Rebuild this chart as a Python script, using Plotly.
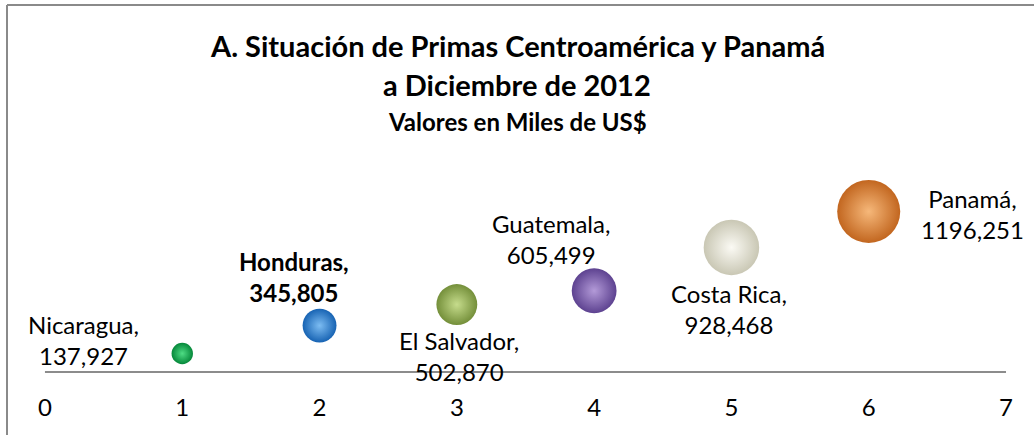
import plotly.graph_objects as go

# datos del gráfico (valores en miles de US$)
paises = ["Nicaragua", "Honduras", "El Salvador", "Guatemala", "Costa Rica", "Panamá"]
posicion = [1, 2, 3, 4, 5, 6]
primas = [137.927, 345.805, 502.870, 605.499, 928.468, 1196.251]
ticks_x = [0, 1, 2, 3, 4, 5, 6, 7]

# colores de las burbujas: borde y brillo
color_borde = ["#05883a", "#1763b3", "#748f3a", "#5d4290", "#c9c7b4", "#c2661f"]
color_brillo = ["#4edc84", "#7cbcf2", "#c6dc8c", "#b39ad8", "#fbfaf4", "#f6b87a"]

# desplazamiento de las etiquetas (px)
dx = [-99, -26, 2, -43, -2, 104]
dy = [13, 49, -51, 52, -62, -3]

FONT = "Lato"
W, H = 1034, 435
L, R, T, B = 30, 10, 175, 44
pw, ph = W - L - R, H - T - B


def fmt(v):
    return f"{v:.3f}".replace(".", ",")


def py(px):
    # pixel vertical -> coordenada paper
    return (H - B - px) / ph


def px_x(px):
    return (px - L) / pw


fig = go.Figure()

fig.add_trace(go.Scatter(
    x=posicion,
    y=primas,
    mode="markers",
    marker=dict(
        size=primas,
        sizemode="area",
        sizeref=2.0 * max(primas) / (63 ** 2),
        color=color_borde,
        gradient=dict(type="radial", color=color_brillo),
        line=dict(width=0),
        opacity=1,
    ),
    hovertext=paises,
    showlegend=False,
))

annotations = []
for i, p in enumerate(paises):
    txt = f"{p},<br>{fmt(primas[i])}"
    if p == "Honduras":
        txt = f"<b>{p},</b><br><b>{fmt(primas[i])}</b>"
    annotations.append(dict(
        x=posicion[i], y=primas[i], xref="x", yref="y",
        text=txt, showarrow=False, align="center",
        xanchor="center", yanchor="middle",
        xshift=dx[i], yshift=dy[i],
        font=dict(family=FONT, size=24, color="#000000"),
    ))

titulos = [
    ("<b>A. Situación de Primas Centroamérica y Panamá</b>", 46, 29),
    ("<b>a Diciembre de 2012</b>", 85, 29),
    ("<b>Valores en Miles de US$</b>", 122, 24),
]
for t, ypx, size in titulos:
    annotations.append(dict(
        x=px_x(517), y=py(ypx), xref="paper", yref="paper",
        text=t, showarrow=False, xanchor="center", yanchor="middle",
        font=dict(family=FONT, size=size, color="#000000"),
    ))

shapes = [
    # eje horizontal en y = 0
    dict(type="line", xref="x", yref="y", x0=0, x1=7, y0=0, y1=0,
         line=dict(color="#8c8c8c", width=2)),
    # marco del gráfico
    dict(type="line", xref="paper", yref="paper",
         x0=px_x(7), x1=px_x(7), y0=py(H), y1=py(5),
         line=dict(color="#8a8a8a", width=2)),
    dict(type="line", xref="paper", yref="paper",
         x0=px_x(7), x1=px_x(W), y0=py(5), y1=py(5),
         line=dict(color="#8a8a8a", width=2)),
]

fig.update_layout(
    width=W, height=H,
    margin=dict(l=L, r=R, t=T, b=B),
    paper_bgcolor="white",
    plot_bgcolor="white",
    font=dict(family=FONT, color="#000000"),
    annotations=annotations,
    shapes=shapes,
    xaxis=dict(
        range=[-0.109, 7.131],
        tickvals=ticks_x,
        ticks="",
        showgrid=False,
        zeroline=False,
        showline=False,
        tickfont=dict(family=FONT, size=24, color="#000000"),
    ),
    yaxis=dict(
        range=[-141.6, 1468],
        visible=False,
        showgrid=False,
        zeroline=False,
    ),
)

# quitar el margen por defecto del body para que el gráfico quede en (0, 0)
fig.write_html(
    "out.html",
    config={"displayModeBar": False},
    post_script="document.body.style.margin='0';",
)
